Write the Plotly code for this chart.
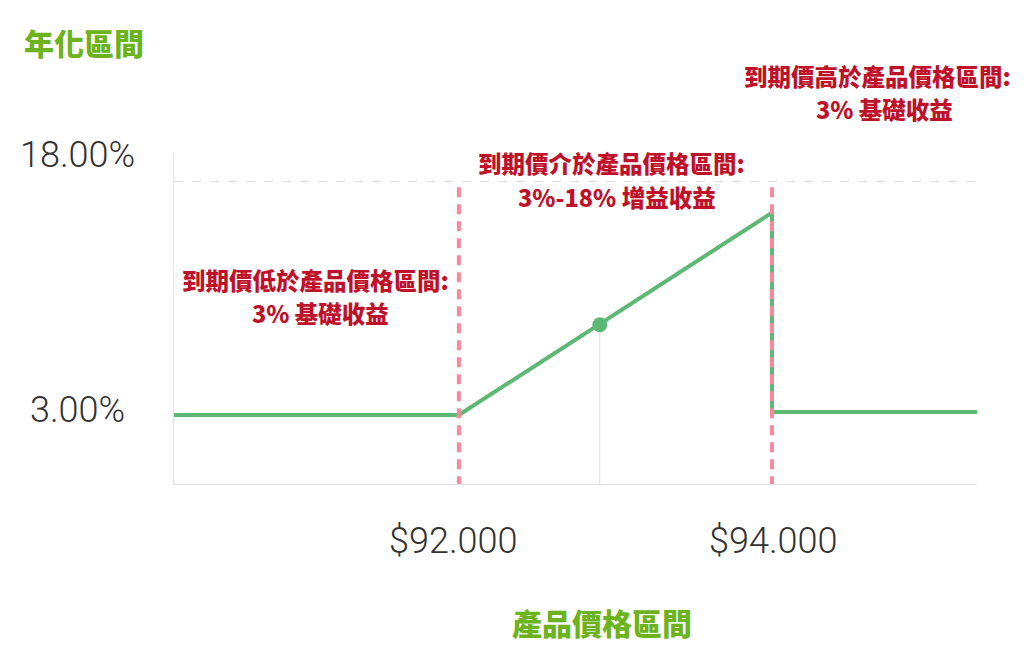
import plotly.graph_objects as go

# Payoff profile: annualised rate (%) against the settlement price
price = [90180, 92000, 94000, 94000, 95310]
rate = [3.0, 3.0, 16.0, 3.2, 3.2]

# Current price marker
spot_price = [92900]
spot_rate = [8.8]

# Product price band edges and base / max rates
band_edges = [92000, 94000]
band_labels = ["$92.000", "$94.000"]
rate_ticks = [18, 3]
rate_labels = ["18.00%", "3.00%"]

notes = [
    ("到期價低於產品價格區間:", "3% 基礎收益"),
    ("到期價介於產品價格區間:", "3%-18% 增益收益"),
    ("到期價高於產品價格區間:", "3% 基礎收益"),
]

# page has an 8px body margin, so work in screen pixels and shift
OFF = 8
W, H = 1008, 646
L, T = 174 - OFF, 153 - OFF
PW, PH = 803, 331
R, B = W - L - PW, H - T - PH
Y_MIN, Y_MAX = -1.43, 19.83

GREEN_TXT = "#6db31d"
RED_TXT = "#c0112a"
LINE_GREEN = "#5cb874"
PINK = "#f7899a"
CJK = "Noto Sans CJK TC"


def px(x):
    return (x - OFF - L) / PW


def py(y):
    return (T + PH - (y - OFF)) / PH


fig = go.Figure()

# thin guide from the marker down to the axis
fig.add_trace(go.Scatter(
    x=spot_price * 2, y=[Y_MIN, spot_rate[0]],
    mode="lines", line=dict(color="#dedede", width=1),
    hoverinfo="skip", showlegend=False
))

fig.add_trace(go.Scatter(
    x=price, y=rate, mode="lines",
    line=dict(color=LINE_GREEN, width=4),
    showlegend=False
))

fig.add_trace(go.Scatter(
    x=spot_price, y=spot_rate, mode="markers",
    marker=dict(color=LINE_GREEN, size=15),
    showlegend=False
))

for edge in band_edges:
    fig.add_shape(type="line", xref="x", yref="y",
                  x0=edge, x1=edge, y0=Y_MIN - 0.15, y1=rate_ticks[0],
                  line=dict(color=PINK, width=4, dash="10px,7px"),
                  layer="above")

# tick labels
for edge, lab, shift in zip(band_edges, band_labels, [-6, 1]):
    fig.add_annotation(x=edge, xref="x", y=0, yref="paper", yshift=-57,
                       text=lab, showarrow=False, xshift=shift,
                       xanchor="center", yanchor="middle",
                       font=dict(family="Roboto", size=36, color="#333333", weight=300))

for val, lab, shift in zip(rate_ticks, rate_labels, [26.5, 5]):
    fig.add_annotation(x=px(77), xref="paper", y=val, yref="y", yshift=shift,
                       text=lab, showarrow=False,
                       xanchor="center", yanchor="middle",
                       font=dict(family="Roboto", size=36, color="#333333", weight=300))

# red explanation blocks: (line1 centre x, line2 centre x, line1 y, line2 y)
note_pos = [(315, 320, 280, 313), (611, 617, 163, 197), (877, 884, 76, 109)]
for (l1, l2), (c1, c2, y1, y2) in zip(notes, note_pos):
    for txt, cx, yy in [(l1, c1, y1), (l2, c2, y2)]:
        fig.add_annotation(x=px(cx), y=py(yy), xref="paper", yref="paper",
                           text=txt, showarrow=False,
                           xanchor="center", yanchor="middle",
                           font=dict(family=CJK, size=23.5, color=RED_TXT, weight=900))

# axis titles
fig.add_annotation(x=px(22), y=py(42), xref="paper", yref="paper",
                   text="年化區間", showarrow=False,
                   xanchor="left", yanchor="middle",
                   font=dict(family=CJK, size=30, color=GREEN_TXT, weight=900))
fig.add_annotation(x=px(602), y=py(622), xref="paper", yref="paper",
                   text="產品價格區間", showarrow=False,
                   xanchor="center", yanchor="middle",
                   font=dict(family=CJK, size=30, color=GREEN_TXT, weight=900))

fig.update_layout(
    width=W, height=H,
    margin=dict(l=L, r=R, t=T, b=B),
    plot_bgcolor="white", paper_bgcolor="white",
    xaxis=dict(range=[price[0], price[-1]], showgrid=False, zeroline=False,
               showticklabels=False, ticks="", showline=True,
               linecolor="#e3e3e3", linewidth=1),
    yaxis=dict(range=[Y_MIN, Y_MAX], tickvals=[rate_ticks[0]], showticklabels=False,
               showgrid=True, gridcolor="#e0e0e0", griddash="dash", gridwidth=1,
               zeroline=False, ticks="", showline=True,
               linecolor="#e3e3e3", linewidth=1),
)

fig.write_html("out.html")
